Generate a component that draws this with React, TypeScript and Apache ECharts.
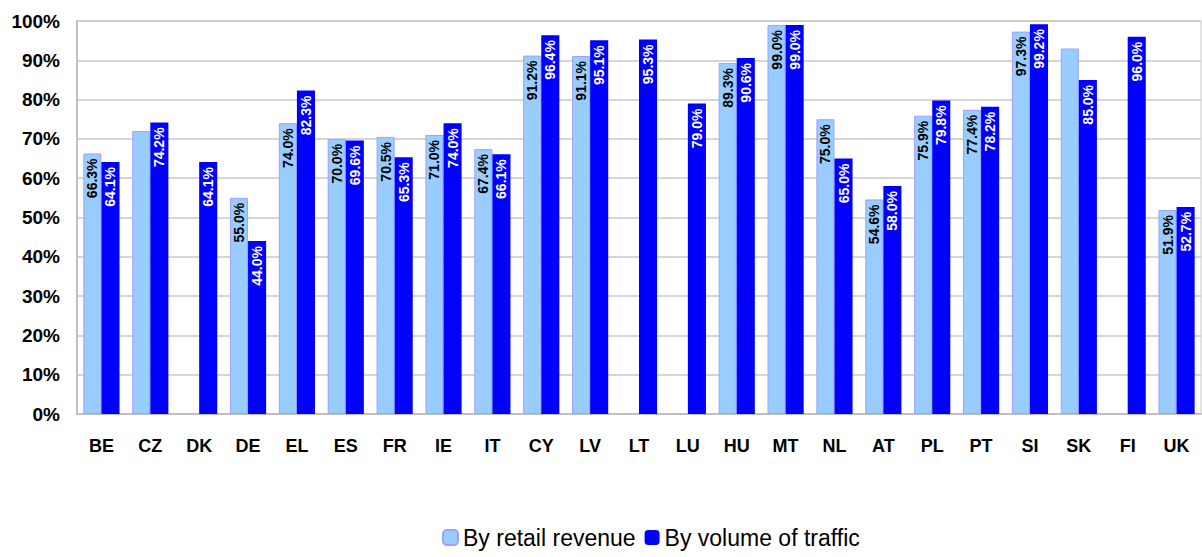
import React, { useEffect, useRef } from "react";
import * as echarts from "echarts";

const categories = ["BE","CZ","DK","DE","EL","ES","FR","IE","IT","CY","LV","LT","LU","HU","MT","NL","AT","PL","PT","SI","SK","FI","UK"];
const retailRevenue: (number | null)[] = [66.3,72.0,null,55.0,74.0,70.0,70.5,71.0,67.4,91.2,91.1,null,null,89.3,99.0,75.0,54.6,75.9,77.4,97.3,93.0,null,51.9];
const volumeTraffic: (number | null)[] = [64.1,74.2,64.1,44.0,82.3,69.6,65.3,74.0,66.1,96.4,95.1,95.3,79.0,90.6,99.0,65.0,58.0,79.8,78.2,99.2,85.0,96.0,52.7];
const hiddenRetailLabels = ["CZ", "SK"];
const yTicks = [0,10,20,30,40,50,60,70,80,90,100];

export default function App() {
  const ref = useRef<HTMLDivElement>(null);
  useEffect(() => {
    document.body.style.margin = "0";
    const chart = echarts.init(ref.current!, null, { renderer: "svg" });
    const font = "Liberation Sans, Arial, sans-serif";
    const labelBase = {
      show: true,
      position: "insideTop" as const,
      rotate: 90,
      align: "right",
      verticalAlign: "middle",
      distance: 5,
      fontFamily: font,
      fontWeight: "bold",
      fontSize: 14,
      formatter: (p: any) => (p.value == null ? "" : Number(p.value).toFixed(1) + "%"),
    };
    chart.setOption({
      animation: false,
      grid: { left: 77, right: 1, top: 21, bottom: 143, show: true, borderColor: "#c8c8c8", borderWidth: 1 },
      legend: {
        left: 437,
        bottom: 3,
        itemWidth: 15,
        itemHeight: 15,
        itemGap: 9,
        textStyle: { fontFamily: font, fontSize: 23, color: "#000" },
        data: ["By retail revenue", "By volume of traffic"],
      },
      xAxis: {
        type: "category",
        data: categories,
        axisLine: { lineStyle: { color: "#c0c0c0", width: 2 } },
        axisTick: { show: false },
        axisLabel: { fontFamily: font, fontWeight: "bold", fontSize: 18, color: "#000", margin: 23 },
      },
      yAxis: {
        type: "value",
        min: yTicks[0],
        max: yTicks[yTicks.length - 1],
        interval: 10,
        axisLine: { show: true, lineStyle: { color: "#c0c0c0", width: 2 } },
        axisTick: { show: false },
        splitLine: { lineStyle: { color: "#c8c8c8", width: 1.5 } },
        axisLabel: { fontFamily: font, fontWeight: "bold", fontSize: 19, color: "#000", margin: 17, formatter: "{value}%" },
      },
      series: [
        {
          name: "By retail revenue",
          type: "bar",
          barGap: "0%",
          barCategoryGap: "26%",
          itemStyle: { color: "#99ccff", borderColor: "#a0a0ff", borderWidth: 1 },
          label: { ...labelBase, color: "#000" },
          data: retailRevenue.map((v, i) =>
            hiddenRetailLabels.includes(categories[i]) ? { value: v, label: { show: false } } : v
          ),
        },
        {
          name: "By volume of traffic",
          type: "bar",
          itemStyle: { color: "#0000ff" },
          label: { ...labelBase, color: "#fff" },
          data: volumeTraffic,
        },
      ],
    });
    return () => chart.dispose();
  }, []);
  return <div ref={ref} style={{ position: "absolute", left: 0, top: 0, width: 1202, height: 557 }} />;
}
